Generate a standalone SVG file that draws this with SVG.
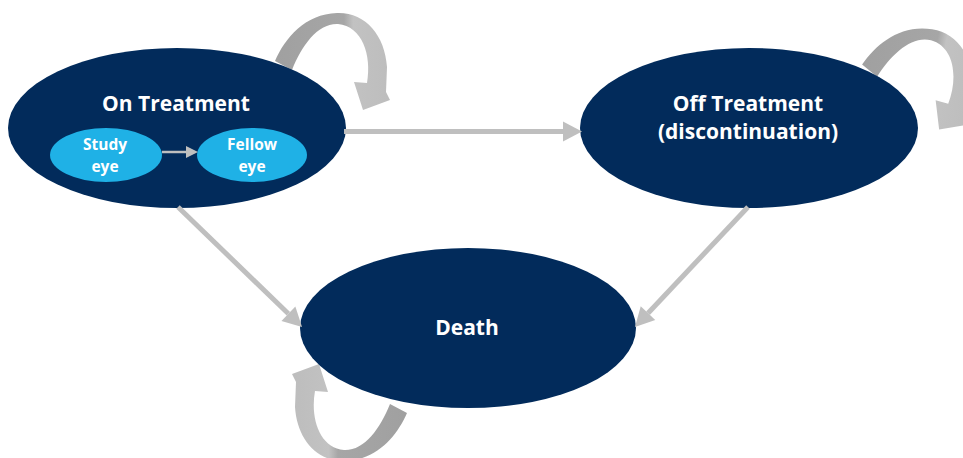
<svg xmlns="http://www.w3.org/2000/svg" xmlns:xlink="http://www.w3.org/1999/xlink" width="963" height="458" viewBox="0 0 963 458">
<style>
.big{fill:#022b5b}
.small{fill:#1fb1e6}
.lbl{font-family:"Open Sans","Liberation Sans",sans-serif;font-weight:700;fill:#ffffff;text-anchor:middle}
.t1{font-size:21px}
.t2{font-size:15.5px}
.conn{stroke:#bfbfbf;stroke-width:5;fill:none}
.conn2{stroke:#bfbfbf;stroke-width:2.5;fill:none}
</style>
<defs>
<marker id="ah" markerUnits="userSpaceOnUse" markerWidth="19" markerHeight="20" refX="0" refY="10" orient="auto" overflow="visible">
<path d="M0,0 L19,10 L0,20 Z" fill="#bfbfbf"/>
</marker>
<marker id="ahs" markerUnits="userSpaceOnUse" markerWidth="12" markerHeight="12" refX="0" refY="6" orient="auto" overflow="visible">
<path d="M0,0 L12,6 L0,12 Z" fill="#bfbfbf"/>
</marker>
<linearGradient id="lg" x1="0" y1="0" x2="1" y2="0">
<stop offset="0" stop-color="#a0a0a0"/>
<stop offset="0.6" stop-color="#a6a6a6"/>
<stop offset="0.68" stop-color="#c2c2c2"/>
<stop offset="1" stop-color="#bdbdbd"/>
</linearGradient>
<path id="loop" fill="url(#lg)" d="M275,61 C285,38 305,14 337,13 C365,12 385,35 387,67 L386,92 L390,100 L363,110 L354,82 L367,83 C372,55 362,26 338,24 C318,23 302,45 292,70 Z"/>
</defs>

<g id="loops">
<use xlink:href="#loop" href="#loop"/>
<use xlink:href="#loop" href="#loop" transform="translate(869,71) rotate(11) translate(-283,-66)"/>
<use xlink:href="#loop" href="#loop" transform="rotate(180 341 237)"/>
</g>

<g id="on-treatment">
<ellipse class="big" cx="177" cy="128" rx="169" ry="80"/>
<text class="lbl t1" x="176" y="111">On Treatment</text>
</g>
<g id="study-eye">
<ellipse class="small" cx="106" cy="155" rx="56" ry="27"/>
<text class="lbl t2" x="105" y="150">Study</text>
<text class="lbl t2" x="105" y="172">eye</text>
</g>
<g id="fellow-eye">
<ellipse class="small" cx="252" cy="155" rx="55" ry="27"/>
<text class="lbl t2" x="252" y="150">Fellow</text>
<text class="lbl t2" x="252" y="172">eye</text>
</g>
<g id="off-treatment">
<ellipse class="big" cx="749" cy="128" rx="169" ry="80"/>
<text class="lbl t1" x="748" y="111">Off Treatment</text>
<text class="lbl t1" x="748" y="139">(discontinuation)</text>
</g>
<g id="death">
<ellipse class="big" cx="468" cy="328" rx="168" ry="80"/>
<text class="lbl t1" x="467" y="335">Death</text>
</g>

<g id="connectors">
<line class="conn2" x1="162" y1="152" x2="186" y2="152" marker-end="url(#ahs)"/>
<line class="conn" x1="344" y1="131.5" x2="563" y2="131.5" marker-end="url(#ah)"/>
<line class="conn" x1="178" y1="207" x2="288.4" y2="313.8" marker-end="url(#ah)"/>
<line class="conn" x1="748" y1="207" x2="648" y2="313.2" marker-end="url(#ah)"/>
</g>
</svg>
